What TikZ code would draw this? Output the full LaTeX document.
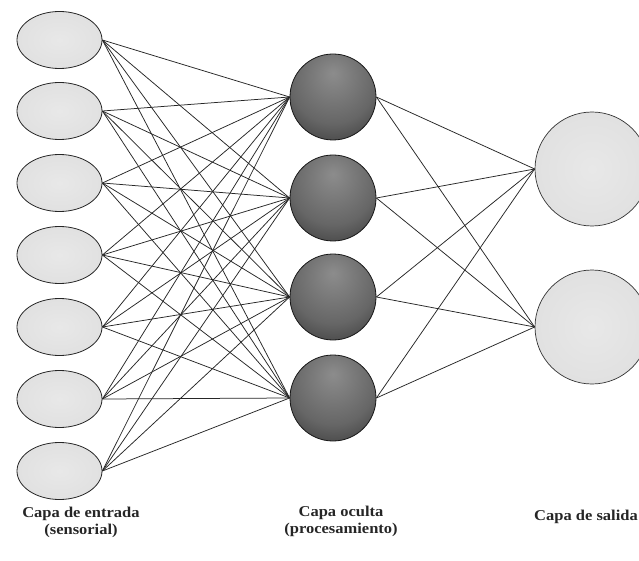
\documentclass[tikz,border=0pt]{standalone}
\usepackage{fontspec}
\setmainfont{Liberation Serif}
\newfontfamily\labelfont[FakeStretch=1.1]{Liberation Serif}
\usetikzlibrary{shapes.geometric}
\pgfdeclareradialshading{hiddenball}{\pgfpoint{0bp}{14bp}}{color(0bp)=(black!45); color(25bp)=(black!60); color(45bp)=(black!82); color(60bp)=(black!93); color(80bp)=(black)}
\pgfdeclareradialshading{lightball}{\pgfpoint{0bp}{0bp}}{color(0bp)=(black!9); color(35bp)=(black!13); color(50bp)=(black!20); color(70bp)=(black!22)}
\tikzset{
  inputnode/.style={ellipse, draw=black!85, line width=0.8pt, minimum width=85pt, minimum height=57pt, inner sep=0pt, shading=lightball},
  hiddennode/.style={circle, draw=black!90, line width=0.8pt, minimum size=86pt, inner sep=0pt, shading=hiddenball},
  outputnode/.style={circle, draw=black!80, line width=0.7pt, minimum size=114pt, inner sep=0pt, shading=lightball},
  link/.style={draw=black!85, line width=0.75pt},
  layerlabel/.style={font=\labelfont\fontsize{15}{17}\selectfont\bfseries, align=center, text=black!85, inner sep=0pt}
}
\begin{document}
\begin{tikzpicture}[x=1pt,y=-1pt]
\useasboundingbox (0,0) rectangle (639,561);
\clip (0,0) rectangle (639,561);
\fill[white] (0,0) rectangle (639,561);
% input layer
\foreach \i/\y in {1/40,2/111,3/183,4/255,5/327,6/399,7/471}{
  \node[inputnode] (in\i) at (59.5,\y) {};
}
% hidden layer
\foreach \j/\y in {1/97,2/198,3/297,4/398}{
  \node[hiddennode] (h\j) at (333,\y) {};
}
% output layer
\node[outputnode] (o1) at (592,169) {};
\node[outputnode] (o2) at (592,327) {};
% connections
\foreach \i in {1,...,7}{
  \foreach \j in {1,...,4}{
    \draw[link] (in\i.east) -- (h\j.west);
  }
}
\foreach \j in {1,...,4}{
  \foreach \k in {1,2}{
    \draw[link] (h\j.east) -- (o\k.west);
  }
}
% labels
\node[layerlabel, anchor=base] (l1) at (81,534) {Capa de entrada\\(sensorial)};
\node[layerlabel, anchor=base] (l2) at (341,533) {Capa oculta\\(procesamiento)};
\node[layerlabel, anchor=base] (l3) at (586,520) {Capa de salida};
\end{tikzpicture}
\end{document}
